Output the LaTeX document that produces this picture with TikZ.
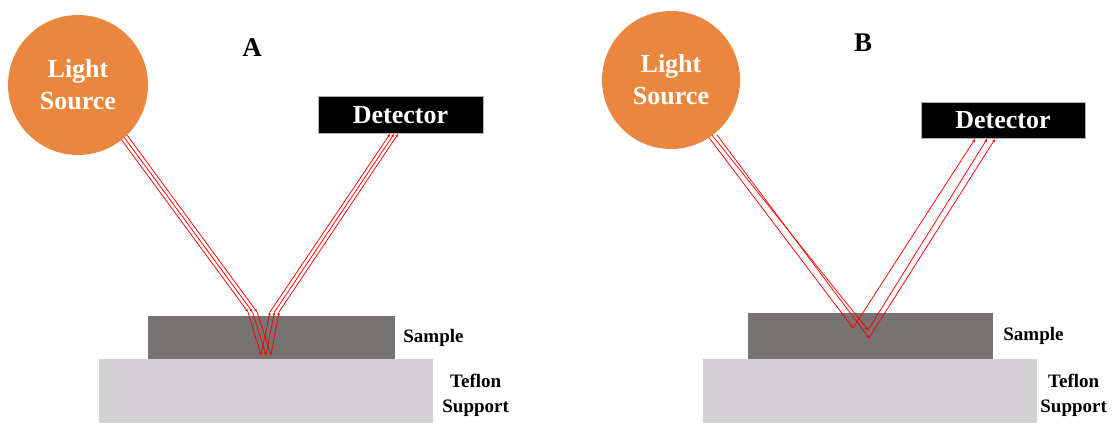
\documentclass[tikz,border=0pt]{standalone}
\usepackage{fontspec}
\setmainfont{Liberation Serif}
\usetikzlibrary{positioning,arrows.meta}
\definecolor{lampcol}{RGB}{234,134,62}
\definecolor{filmcol}{RGB}{120,115,115}
\definecolor{supcol}{RGB}{210,208,210}
\tikzstyle{lamp}=[circle,fill=lampcol,text=white,minimum size=140pt,inner sep=0pt,align=center,font=\fontsize{26}{32}\selectfont\bfseries]
\tikzstyle{detbox}=[rectangle,fill=black,draw=gray!60,line width=0.4pt,text=white,minimum width=165pt,minimum height=37pt,inner sep=0pt,font=\fontsize{26}{30}\selectfont\bfseries]
\tikzstyle{layer}=[rectangle,fill=#1,draw=none,inner sep=0pt]
\tikzstyle{tag}=[inner sep=0pt,align=center,font=\fontsize{19}{25}\selectfont\bfseries]
\tikzstyle{beam}=[red,line width=0.75pt,-{Stealth[length=3.5pt,width=2.8pt]}]
\newcommand{\beam}[2]{\draw[beam] (#1) -- (#2);}

\begin{document}
\begin{tikzpicture}[x=1pt,y=-1pt]
    \useasboundingbox (0,0) rectangle (1115,423);

    % panel A: reflection through the film
    \node[layer=supcol,minimum width=334pt,minimum height=64pt] (tefA) at (266,391) {};
    \node[layer=filmcol,minimum width=247pt,minimum height=43pt] (smpA) at (271.5,337.5) {};
    \node[tag,right=8pt of smpA] (smpAlab) {Sample};
    \node[tag,right=9pt of tefA,yshift=-4pt] (tefAlab) {Teflon\\Support};

    \coordinate (sA1) at (118,135);   \coordinate (sA2) at (122.5,135); \coordinate (sA3) at (127,135);
    \coordinate (eA1) at (248,312);   \coordinate (eA2) at (252.5,312); \coordinate (eA3) at (257,312);
    \coordinate (bA1) at (261,355);   \coordinate (bA2) at (266,355);   \coordinate (bA3) at (271,355);
    \coordinate (xA1) at (270,312);   \coordinate (xA2) at (274.5,312); \coordinate (xA3) at (279,312);
    \coordinate (dA1) at (390,134);   \coordinate (dA2) at (394,134);   \coordinate (dA3) at (398,134);

    \beam{sA1}{eA1} \beam{sA2}{eA2} \beam{sA3}{eA3}
    \beam{eA1}{bA1} \beam{eA2}{bA2} \beam{eA3}{bA3}
    \beam{bA1}{xA1} \beam{bA2}{xA2} \beam{bA3}{xA3}
    \beam{xA1}{dA1} \beam{xA2}{dA2} \beam{xA3}{dA3}

    \node[lamp] (srcA) at (78,85) {Light\\Source};
    \node[detbox] (detA) at (400.5,115) {Detector};
    \node[font=\fontsize{27}{30}\selectfont\bfseries] (titA) at (252,48) {A};

    % panel B: reflection at the surface
    \node[layer=supcol,minimum width=334pt,minimum height=64pt] (tefB) at (870,391) {};
    \node[layer=filmcol,minimum width=245pt,minimum height=46pt] (smpB) at (870.5,336) {};
    \node[tag,right=10pt of smpB] (smpBlab) {Sample};
    \node[tag,right=3pt of tefB,yshift=-4pt] (tefBlab) {Teflon\\Support};

    \coordinate (sB1) at (707,135);   \coordinate (sB2) at (712,135);   \coordinate (sB3) at (717,135);
    \coordinate (vB1) at (853,328);   \coordinate (vB2) at (868,330);   \coordinate (vB3) at (869,338);
    \coordinate (dB1) at (975,139);   \coordinate (dB2) at (987,139);   \coordinate (dB3) at (995,139);

    \beam{sB1}{vB1} \beam{sB2}{vB2} \beam{sB3}{vB3}
    \beam{vB1}{dB1} \beam{vB2}{dB2} \beam{vB3}{dB3}

    \node[lamp,minimum size=138pt] (srcB) at (671,80) {Light\\Source};
    \node[detbox,minimum width=164pt,minimum height=36pt] (detB) at (1003,120) {Detector};
    \node[font=\fontsize{27}{30}\selectfont\bfseries] (titB) at (863,43) {B};
\end{tikzpicture}
\end{document}
